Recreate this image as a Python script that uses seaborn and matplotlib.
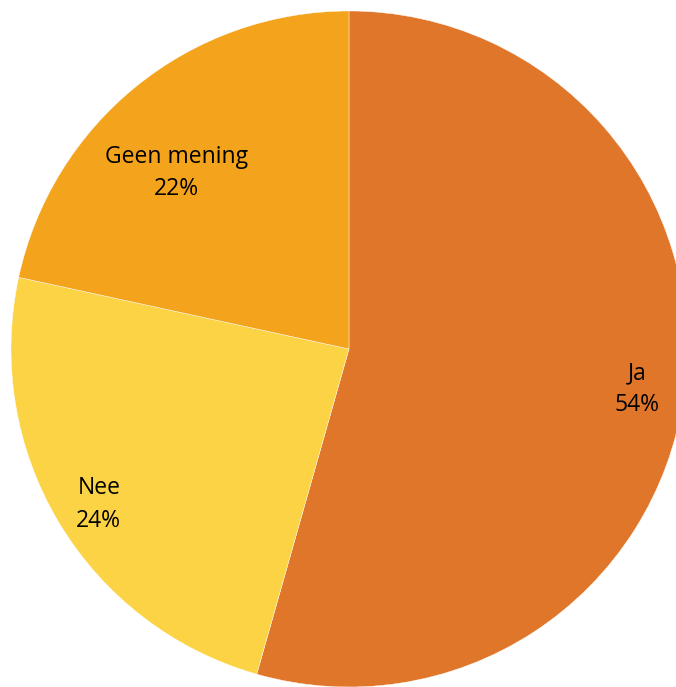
import matplotlib.pyplot as plt
import seaborn as sns

# Data

labels = ['Ja', 'Nee', 'Geen mening']
shares = [54.4, 24.0, 21.6]
colors = ['#E0762A', '#FBD344', '#F4A41C']

# Plot

sns.set_theme(style='white')
plt.rcParams['font.family'] = ['Open Sans', 'DejaVu Sans']

fig = plt.figure(figsize=(6.76, 6.87), dpi=100)
ax = fig.add_axes([0, 0, 1, 1])

texts = [f'{l}\n{s:.0f}%' for l, s in zip(labels, shares)]
wedges, lbls = ax.pie(shares, labels=texts, colors=colors, startangle=90,
                      counterclock=False, labeldistance=0.86,
                      wedgeprops=dict(linewidth=0.3, edgecolor='white'),
                      textprops=dict(fontsize=16.5, color='black', ha='center',
                                     va='center', linespacing=1.45))

# nudge labels to where the original has them
lbls[1].set_position((-0.74, -0.46))
lbls[2].set_position((-0.51, 0.52))
for t in lbls:
    t.set_ha('center')

ax.set_xlim(-1.0325, 0.9675)
ax.set_ylim(-1.0, 1.0325)
ax.set_aspect('auto')
ax.axis('off')

plt.savefig('out.png', dpi=100)
